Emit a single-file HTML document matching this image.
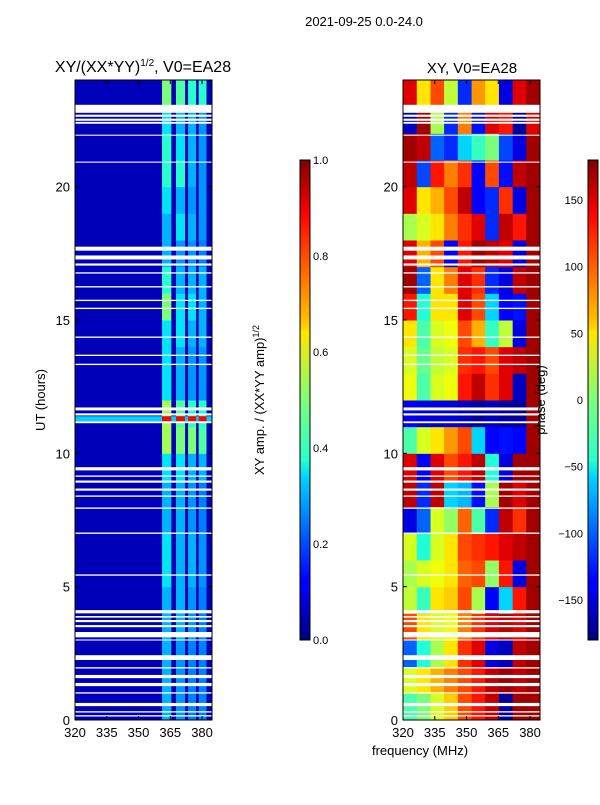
<!DOCTYPE html>
<html><head><meta charset="utf-8"><style>
body{margin:0;background:#fff;}
svg text{font-family:"Liberation Sans",sans-serif;fill:#000;}
</style></head><body>
<svg id="fig" width="600" height="800" xmlns="http://www.w3.org/2000/svg">
<defs>
<linearGradient id="jetg" x1="0" y1="1" x2="0" y2="0">
<stop offset="0" stop-color="#00007f"/><stop offset="0.11" stop-color="#0000ff"/><stop offset="0.125" stop-color="#0000ff"/>
<stop offset="0.34" stop-color="#00d4ff"/><stop offset="0.375" stop-color="#29ffce"/><stop offset="0.5" stop-color="#7dff7a"/>
<stop offset="0.64" stop-color="#ffe600"/><stop offset="0.66" stop-color="#ffc400"/><stop offset="0.89" stop-color="#ff0000"/><stop offset="1" stop-color="#7f0000"/>
</linearGradient>
</defs>
<text x="364" y="26" font-size="13" text-anchor="middle">2021-09-25 0.0-24.0</text>
<text x="143" y="72" font-size="16" text-anchor="middle">XY/(XX*YY)<tspan font-size="10" dy="-6">1/2</tspan><tspan dy="6">, V0=EA28</tspan></text>
<text x="472" y="73" font-size="15" text-anchor="middle">XY, V0=EA28</text>
<g id="left"></g>
<g id="right"></g>
<g id="axes"></g>
<text transform="translate(45,400) rotate(-90)" font-size="13" text-anchor="middle">UT (hours)</text>
<text x="420" y="755" font-size="13" text-anchor="middle">frequency (MHz)</text>
<rect x="300" y="160" width="10" height="480" fill="url(#jetg)" stroke="#000" stroke-width="1"/>
<rect x="588" y="160" width="10" height="480" fill="url(#jetg)" stroke="#000" stroke-width="1"/>
<text transform="translate(264,400) rotate(-90)" font-size="13" text-anchor="middle">XY amp. / (XX*YY amp)<tspan font-size="9" dy="-5">1/2</tspan></text>
<text transform="translate(545,400) rotate(-90)" font-size="13" text-anchor="middle">phase (deg)</text>
</svg>
<script>
const hours=[0,1,2,3,4,5,6,7,8,9,10,11,12,13,14,15,16,17,18,19,20,21,22,23];
// right panel phase (deg), rows hour 0..23, 10 freq columns
const phase=[
[-20,0,40,70,120,140,160,-170,170,170],
[40,60,80,100,120,140,160,170,160,170],
[-100,-40,20,60,130,150,-150,-160,160,170],
[120,60,40,50,100,130,150,160,150,170],
[30,-30,60,70,120,20,-140,-60,140,170],
[20,40,50,60,110,120,10,140,-150,170],
[40,-40,40,60,120,130,140,150,160,170],
[-150,-100,40,10,110,-20,-120,160,130,170],
[160,-120,160,-60,-70,-130,20,170,150,170],
[150,-140,150,120,140,160,-40,-150,170,170],
[-20,40,60,90,120,-60,-140,-130,-140,170],
[-140,-150,-150,-150,-160,-170,-160,-170,-170,170],
[50,-20,40,50,140,160,130,150,-160,170],
[40,-10,30,40,130,140,120,150,160,170],
[60,-20,40,50,120,80,-30,30,-150,170],
[140,-40,60,60,150,120,-60,-140,-130,170],
[170,-100,60,100,150,130,-120,-150,160,170],
[150,80,120,-140,140,170,160,150,-150,170],
[20,40,60,100,130,150,-120,160,140,170],
[150,60,80,120,160,-140,-120,130,-150,170],
[160,-110,140,100,130,-140,120,-130,160,170],
[170,160,-100,-120,-60,-30,0,-110,-150,170],
[-160,170,20,-120,100,-130,150,140,-170,150],
[150,60,120,30,-120,90,60,-150,150,170]];
const phaseFreqEdges=[320,326.5,333,339.4,345.9,352.4,358.8,365.3,371.8,378.2,384.7];
// left panel amplitude
const ampBackground=0.05;
const ampBandStart=[361.1,367.7,373.4,378.4];
const ampBandEnd=[365.5,372.0,377.2,382.1];
const amp=[
[0.3,0.27,0.25,0.25],[0.3,0.27,0.25,0.25],[0.3,0.27,0.25,0.25],[0.3,0.3,0.27,0.25],
[0.3,0.3,0.27,0.25],[0.35,0.3,0.3,0.27],[0.35,0.3,0.3,0.27],[0.3,0.3,0.27,0.25],
[0.3,0.3,0.27,0.25],[0.35,0.35,0.3,0.3],[0.55,0.5,0.5,0.45],[0.55,0.45,0.4,0.4],
[0.35,0.3,0.27,0.27],[0.35,0.3,0.27,0.27],[0.35,0.35,0.3,0.3],[0.5,0.35,0.35,0.3],
[0.4,0.3,0.3,0.3],[0.3,0.27,0.27,0.25],[0.3,0.35,0.3,0.27],[0.35,0.3,0.27,0.27],
[0.4,0.4,0.3,0.27],[0.4,0.35,0.3,0.27],[0.35,0.3,0.3,0.27],[0.5,0.45,0.4,0.4]];
const flareStart=11.2, flareEnd=11.39, flareBg=0.33, flareBand=0.9;
const gapStart=[22.77,22.62,22.47,22.36,21.91,20.9,17.6,17.27,17.04,16.74,16.22,15.71,15.41,14.33,13.65,13.31,11.61,11.42,11.13,9.36,9.12,8.9,8.6,8.37,7.92,6.98,5.41,4.0,3.84,3.67,3.48,3.1,2.98,2.25,1.93,1.57,1.27,0.99,0.52,0.28,0.13];
const gapEnd=[23.07,22.7,22.55,22.43,21.95,20.94,17.75,17.42,17.12,16.79,16.27,15.76,15.46,14.38,13.7,13.36,11.72,11.5,11.2,9.48,9.17,8.98,8.68,8.42,7.97,7.03,5.46,4.12,3.9,3.75,3.56,3.3,3.02,2.43,1.98,1.69,1.39,1.04,0.64,0.33,0.18];
const xTicks=[320,335,350,365,380];
const yTicks=[0,5,10,15,20];
const ampTicks=[0,0.2,0.4,0.6,0.8,1.0];
const phaseTicks=[-150,-100,-50,0,50,100,150];

const NS="http://www.w3.org/2000/svg";
const panels=[{x0:75,g:'left'},{x0:403,g:'right'}];
const W=137,Y0=720,Y1=80,F0=320,F1=384.7;
const ys=h=>Y0-(h/24)*(Y0-Y1);
function xs(p,f){return p.x0+(f-F0)/(F1-F0)*W;}
function jet(v){v=Math.max(0,Math.min(1,v));
 function seg(pts){for(let i=1;i<pts.length;i++){if(v<=pts[i][0]){const a=pts[i-1],b=pts[i];return a[1]+(b[1]-a[1])*(v-a[0])/(b[0]-a[0]);}}return pts[pts.length-1][1];}
 const r=seg([[0,0],[0.35,0],[0.66,1],[0.89,1],[1,0.5]]);
 const g=seg([[0,0],[0.125,0],[0.375,1],[0.64,1],[0.91,0],[1,0]]);
 const b=seg([[0,0.5],[0.11,1],[0.34,1],[0.65,0],[1,0]]);
 return `rgb(${Math.round(r*255)},${Math.round(g*255)},${Math.round(b*255)})`;}
function rect(parent,x,y,w,h,fill,name){const r=document.createElementNS(NS,'rect');
 r.setAttribute('x',x);r.setAttribute('y',y);r.setAttribute('width',w);r.setAttribute('height',h);r.setAttribute('fill',fill);
 
 
 parent.appendChild(r);return r;}
function txt(x,y,s,anchor,size){const t=document.createElementNS(NS,'text');
 t.setAttribute('x',x);t.setAttribute('y',y);t.setAttribute('font-size',size||12);t.setAttribute('text-anchor',anchor);t.textContent=s;
 
 
 document.getElementById('axes').appendChild(t);}
// left
const L=document.getElementById('left'),pl=panels[0];
rect(L,pl.x0,Y1,W,Y0-Y1,jet(ampBackground),'amp-background');
hours.forEach((h,r)=>{amp[r].forEach((v,c)=>{
 rect(L,xs(pl,ampBandStart[c]),ys(h+1),xs(pl,ampBandEnd[c])-xs(pl,ampBandStart[c]),ys(h)-ys(h+1)+0.5,jet(v),'amp-cell');});});
rect(L,pl.x0,ys(flareEnd),W,ys(flareStart)-ys(flareEnd),jet(flareBg),'flare-row');
ampBandStart.forEach((f,c)=>rect(L,xs(pl,f),ys(flareEnd),xs(pl,ampBandEnd[c])-xs(pl,f),ys(flareStart)-ys(flareEnd),jet(flareBand),'flare-cell'));
// right
const R=document.getElementById('right'),pr=panels[1];
hours.forEach((h,r)=>{phase[r].forEach((v,c)=>{
 rect(R,xs(pr,phaseFreqEdges[c]),ys(h+1),xs(pr,phaseFreqEdges[c+1])-xs(pr,phaseFreqEdges[c])+0.5,ys(h)-ys(h+1)+0.5,jet((v+180)/360),'phase-cell');});});
// gaps
[L,R].forEach((g,i)=>{gapStart.forEach((s,k)=>rect(g,panels[i].x0,ys(gapEnd[k]),W,ys(s)-ys(gapEnd[k]),'#fff','data-gap'));});
// axes
const A=document.getElementById('axes');
panels.forEach(p=>{
 const fr=rect(A,p.x0,Y1,W,Y0-Y1,'none','axes-frame');fr.setAttribute('stroke','#000');
 xTicks.forEach(f=>{const x=xs(p,f);
  rect(A,x-0.5,Y0-4,1,4,'#000','x-tick');rect(A,x-0.5,Y1,1,4,'#000','x-tick');
  txt(x,Y0+17,String(f),'middle',13);});
 yTicks.forEach(h=>{const y=ys(h);
  rect(A,p.x0,y-0.5,4,1,'#000','y-tick');rect(A,p.x0+W-4,y-0.5,4,1,'#000','y-tick');
  txt(p.x0-5,y+5,String(h),'end',13);});
});
ampTicks.forEach(v=>{const y=640-v*480;rect(A,306,y-0.5,4,1,'#000','cbar-tick');txt(313,y+4,v.toFixed(1),'start',11);});
phaseTicks.forEach(v=>{const y=400-v/180*240;rect(A,594,y-0.5,4,1,'#000','cbar-tick');txt(583,y+4,v<0?'\u2212'+(-v):String(v),'end',11);});
</script>
</body></html>
